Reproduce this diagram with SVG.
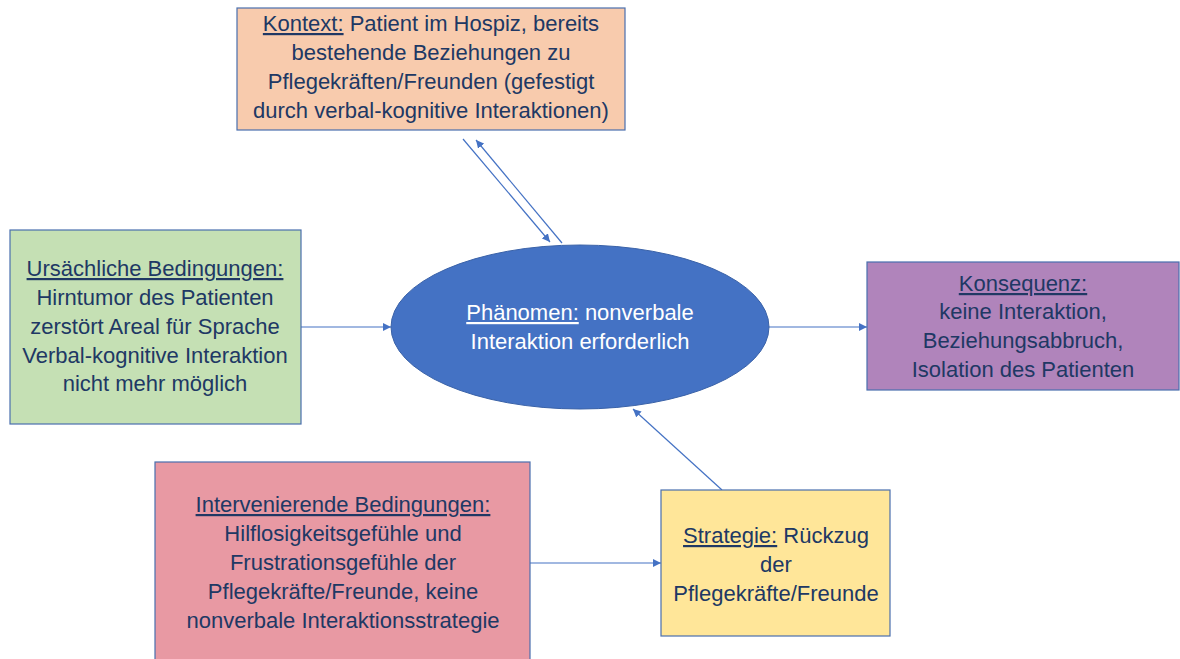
<svg xmlns="http://www.w3.org/2000/svg" width="1180" height="659" viewBox="0 0 1180 659">
<defs>
<style>
.box{stroke:#4a6fae;stroke-width:1.2}
.t{font-family:"Liberation Sans",Arial,sans-serif;font-size:22px;fill:#203864;text-anchor:middle}
.w{fill:#ffffff}
.u{text-decoration:underline}
.c{stroke:#4472C4;stroke-width:1.2;fill:none}
</style>
<marker id="ah" viewBox="0 0 10 10" refX="10" refY="5" markerWidth="8" markerHeight="8" markerUnits="userSpaceOnUse" orient="auto">
<path d="M0,0 L10,5 L0,10 z" fill="#4472C4"/>
</marker>
</defs>
<rect width="1180" height="659" fill="#ffffff"/>
<g id="connectors">
<line class="c" x1="463" y1="139" x2="550" y2="242" marker-end="url(#ah)"/>
<line class="c" x1="562" y1="243" x2="476" y2="140" marker-end="url(#ah)"/>
<line class="c" x1="301" y1="327" x2="391" y2="327" marker-end="url(#ah)"/>
<line class="c" x1="769" y1="327" x2="867" y2="327" marker-end="url(#ah)"/>
<line class="c" x1="530" y1="563" x2="661" y2="563" marker-end="url(#ah)"/>
<line class="c" x1="722" y1="490" x2="633" y2="409" marker-end="url(#ah)"/>
</g>
<g id="kontext">
<rect class="box" x="237" y="8" width="388" height="122" fill="#F8CBAD"/>
<text class="t" x="431" y="31"><tspan class="u">Kontext:</tspan> Patient im Hospiz, bereits</text>
<text class="t" x="431" y="60">bestehende Beziehungen zu</text>
<text class="t" x="431" y="89">Pflegekräften/Freunden (gefestigt</text>
<text class="t" x="431" y="118">durch verbal-kognitive Interaktionen)</text>
</g>
<g id="ursachen">
<rect class="box" x="10" y="230" width="291" height="194" fill="#C5E0B4"/>
<text class="t" x="155" y="276"><tspan class="u">Ursächliche Bedingungen:</tspan></text>
<text class="t" x="155" y="305">Hirntumor des Patienten</text>
<text class="t" x="155" y="334">zerstört Areal für Sprache</text>
<text class="t" x="155" y="363">Verbal-kognitive Interaktion</text>
<text class="t" x="155" y="391">nicht mehr möglich</text>
</g>
<g id="phaenomen">
<ellipse cx="580" cy="327" rx="189" ry="82" fill="#4472C4" stroke="#3a62a8" stroke-width="1"/>
<text class="t w" x="580" y="320"><tspan class="u">Phänomen:</tspan> nonverbale</text>
<text class="t w" x="580" y="349">Interaktion erforderlich</text>
</g>
<g id="konsequenz">
<rect class="box" x="867" y="262" width="312" height="128" fill="#B084BB"/>
<text class="t" x="1023" y="291"><tspan class="u">Konsequenz:</tspan></text>
<text class="t" x="1023" y="319">keine Interaktion,</text>
<text class="t" x="1023" y="348">Beziehungsabbruch,</text>
<text class="t" x="1023" y="377">Isolation des Patienten</text>
</g>
<g id="intervenierend">
<rect class="box" x="155" y="462" width="375" height="200" fill="#E899A3"/>
<text class="t" x="343" y="512"><tspan class="u">Intervenierende Bedingungen:</tspan></text>
<text class="t" x="343" y="541">Hilflosigkeitsgefühle und</text>
<text class="t" x="343" y="570">Frustrationsgefühle der</text>
<text class="t" x="343" y="599">Pflegekräfte/Freunde, keine</text>
<text class="t" x="343" y="628">nonverbale Interaktionsstrategie</text>
</g>
<g id="strategie">
<rect class="box" x="661" y="490" width="229" height="146" fill="#FFE699"/>
<text class="t" x="776" y="543"><tspan class="u">Strategie:</tspan> Rückzug</text>
<text class="t" x="776" y="572">der</text>
<text class="t" x="776" y="601">Pflegekräfte/Freunde</text>
</g>
</svg>
